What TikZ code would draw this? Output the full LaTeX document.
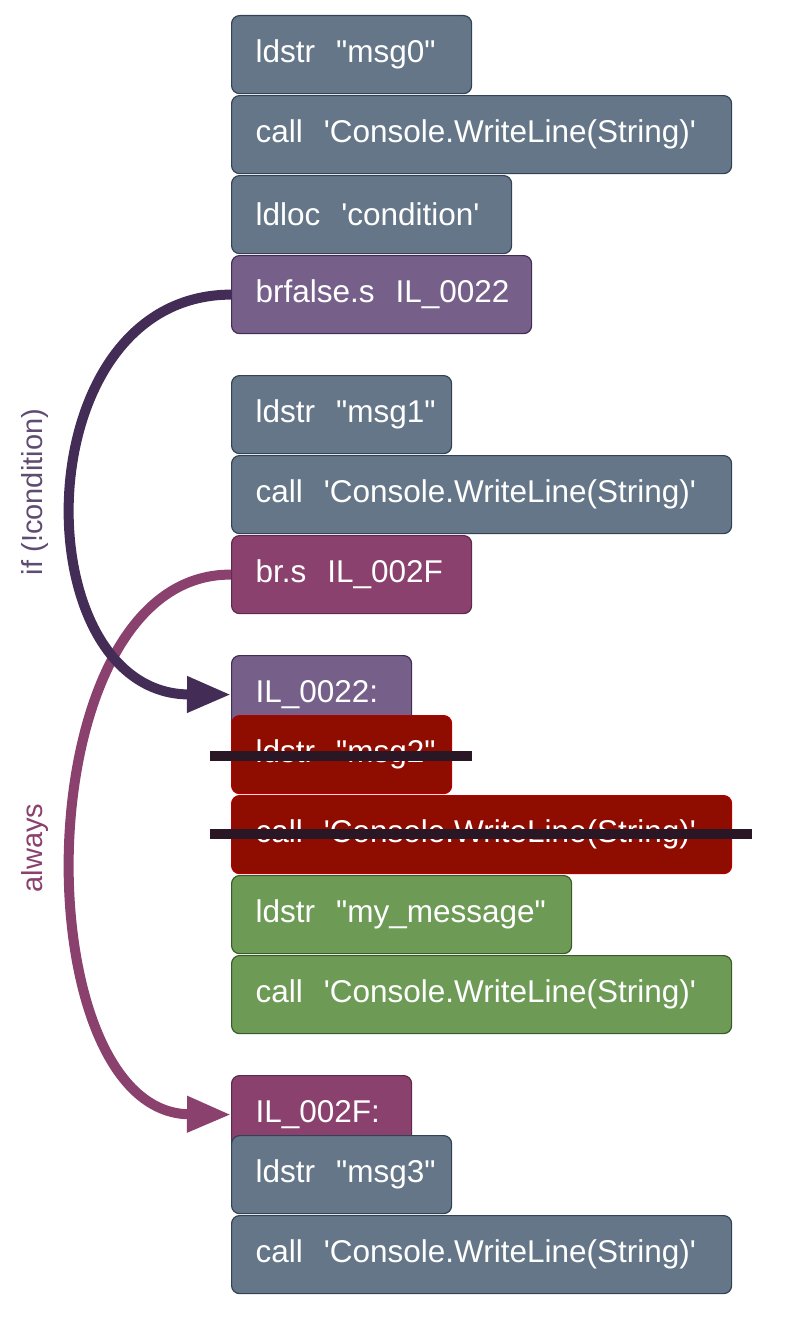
\documentclass[tikz,border=0pt]{standalone}
\usepackage{fontspec}
\setmainfont{Liberation Sans}[Ligatures=TeXOff]
\usetikzlibrary{arrows.meta,calc}

\definecolor{slatefill}{HTML}{647687}
\definecolor{slateline}{HTML}{314354}
\definecolor{purpfill}{HTML}{76608A}
\definecolor{purpline}{HTML}{432D57}
\definecolor{plumfill}{HTML}{8B416E}
\definecolor{plumline}{HTML}{5E2A4A}
\definecolor{redfill}{HTML}{8E0C00}
\definecolor{redline}{HTML}{B20000}
\definecolor{greenfill}{HTML}{6D9B55}
\definecolor{greenline}{HTML}{3A5A2A}
\definecolor{strikecol}{HTML}{2A1726}

\tikzset{
    instr/.style={rectangle, rounded corners=8pt, line width=1.2pt, anchor=north west,
        minimum height=78pt, inner xsep=24pt, align=left, text=white,
        font=\fontsize{31.5}{36}\selectfont},
    plain/.style={instr, fill=slatefill, draw=slateline},
    jumpif/.style={instr, fill=purpfill, draw=purpline},
    jumpalw/.style={instr, fill=plumfill, draw=plumline},
    dead/.style={instr, fill=redfill, draw=redline},
    added/.style={instr, fill=greenfill, draw=greenline},
    strike/.style={line width=10pt, strikecol},
    branch/.style={line width=10pt, -{Triangle[length=44pt,width=34pt]}},
}

\begin{document}
\begin{tikzpicture}[x=1pt, y=-1pt]
    \useasboundingbox (0,0) rectangle (786,1322);

    % Block before the branch
    \node[plain, text width=192pt] (ld0) at (231,15) {ldstr~~"msg0"};
    \node[plain, text width=452pt] (wr0) at (231,95) {call~~'Console.WriteLine(String)'};
    \node[plain, text width=232pt] (ldc) at (231,175) {ldloc~~'condition'};
    \node[jumpif, text width=252pt] (brf) at (231,255) {brfalse.s~~IL\_0022};

    % Then part
    \node[plain, text width=172pt] (ld1) at (231,375) {ldstr~~"msg1"};
    \node[plain, text width=452pt] (wr1) at (231,455) {call~~'Console.WriteLine(String)'};
    \node[jumpalw, text width=192pt] (brs) at (231,535) {br.s~~IL\_002F};

    % Else part
    \node[jumpif, text width=132pt] (il22) at (231,655) {IL\_0022:};
    \node[dead, text width=172pt] (ld2) at (231,715) {ldstr~~"msg2"};
    \node[dead, text width=452pt] (wr2) at (231,795) {call~~'Console.WriteLine(String)'};
    \node[added, text width=292pt] (ldm) at (231,875) {ldstr~~"my\_message"};
    \node[added, text width=452pt] (wrm) at (231,955) {call~~'Console.WriteLine(String)'};

    % After the if
    \node[jumpalw, text width=132pt] (il2f) at (231,1075) {IL\_002F:};
    \node[plain, text width=172pt] (ld3) at (231,1135) {ldstr~~"msg3"};
    \node[plain, text width=452pt] (wr3) at (231,1215) {call~~'Console.WriteLine(String)'};

    % Removed instructions
    \draw[strike] ($(ld2.west)+(-21,1)$) -- ($(ld2.east)+(20,1)$);
    \draw[strike] ($(wr2.west)+(-21,-1)$) -- ($(wr2.east)+(20,-1)$);

    % Jumps
    \draw[branch, plumfill] (brs.west) .. controls (22,573) and (22,1113) .. (il2f.west);
    \draw[branch, purpline] (brf.west) .. controls (22,295) and (22,694) .. (il22.west);

    % Jump labels
    \node[rotate=90, text=purpline!85!white, font=\fontsize{29}{34}\selectfont] (iflab) at (35,492) {if (!condition)};
    \node[rotate=90, text=plumfill, font=\fontsize{29}{34}\selectfont] (alwlab) at (35,848) {always};
\end{tikzpicture}
\end{document}
